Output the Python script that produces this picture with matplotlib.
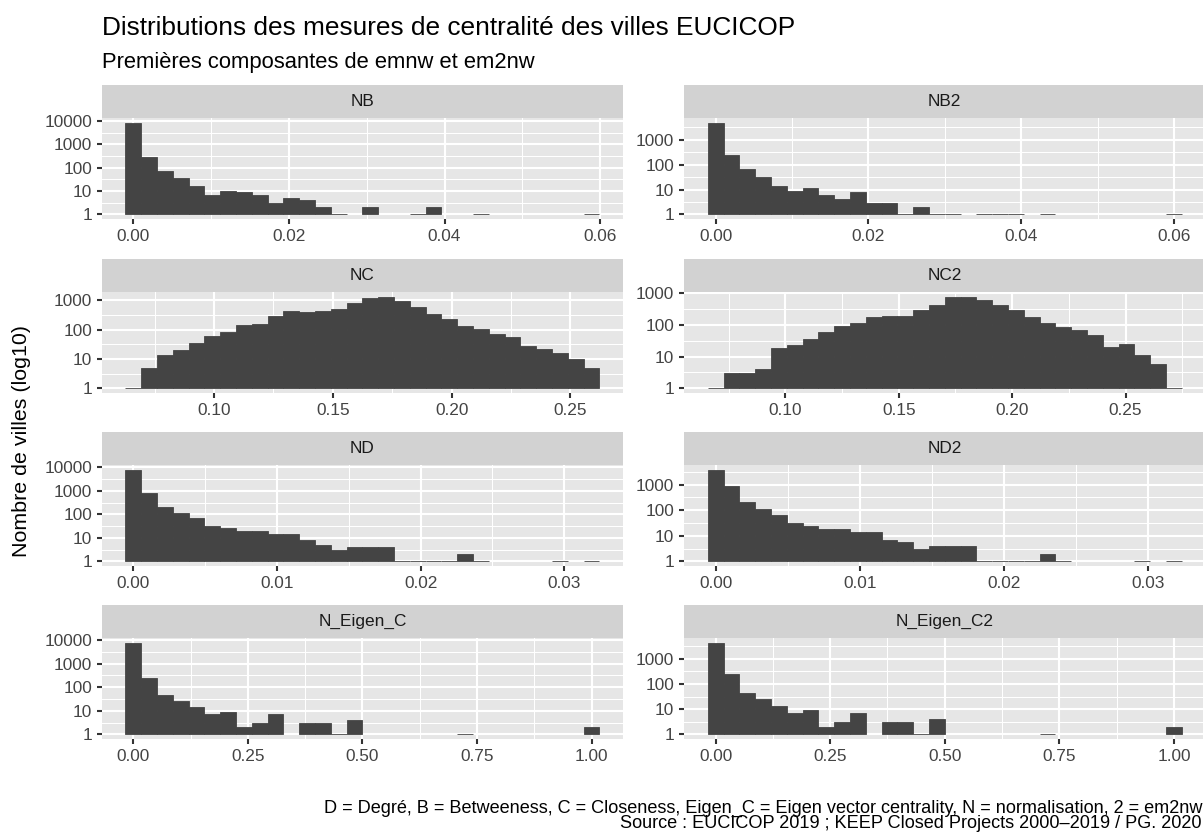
import numpy as np
import matplotlib
matplotlib.use('Agg')
import matplotlib.pyplot as plt
import matplotlib.ticker as mticker

plt.rcParams['font.family'] = ['Liberation Sans', 'DejaVu Sans']

# Histogram counts (30 bins each)
panel_names = ['NB', 'NB2', 'NC', 'NC2', 'ND', 'ND2', 'N_Eigen_C', 'N_Eigen_C2']

counts_nb = [8500, 277, 70, 35, 17, 7, 10, 9, 7, 3, 5, 4, 2, 1, 0,
             2, 0, 0, 1, 2, 0, 0, 1, 0, 0, 0, 0, 0, 0, 1]
counts_nb2 = [4900, 250, 69, 32, 14, 9, 12, 6, 4, 8, 3, 3, 1, 2, 1,
              1, 0, 1, 1, 1, 0, 1, 0, 0, 0, 0, 0, 0, 0, 1]
counts_nc = [1, 5, 14, 21, 35, 62, 85, 145, 156, 300, 450, 400, 450, 525, 820,
             1230, 1350, 960, 600, 345, 240, 137, 105, 71, 58, 28, 22, 16, 10, 5]
counts_nc2 = [1, 3, 3, 4, 18, 23, 36, 59, 93, 113, 174, 192, 190, 296, 427,
              765, 765, 615, 427, 296, 178, 115, 87, 69, 48, 20, 25, 11, 6, 1]
counts_nd = [7900, 810, 213, 114, 72, 33, 27, 20, 20, 15, 15, 8, 5, 3, 4,
             4, 4, 1, 1, 1, 1, 2, 1, 0, 0, 0, 0, 1, 0, 1]
counts_nd2 = [3900, 860, 214, 113, 66, 32, 24, 18, 18, 14, 14, 7, 6, 3, 4,
              4, 4, 1, 1, 1, 1, 2, 1, 0, 0, 0, 0, 1, 0, 1]
counts_eig = [7700, 250, 47, 26, 14, 7, 9, 2, 3, 7, 0, 3, 3, 1, 4,
              0, 0, 0, 0, 0, 0, 1, 0, 0, 0, 0, 0, 0, 0, 2]
counts_eig2 = [4370, 250, 44, 25, 14, 7, 9, 2, 3, 7, 0, 3, 3, 1, 4,
               0, 0, 0, 0, 0, 0, 1, 0, 0, 0, 0, 0, 0, 0, 2]

# centre of the first and last bin of each panel
bin_first = [0.0, 0.0, 0.0660, 0.0693, 0.0, 0.0, 0.0, 0.0]
bin_last = [0.0589, 0.0600, 0.2589, 0.2713, 0.0319, 0.0318, 1.0, 1.0]
x_steps = [0.02, 0.02, 0.05, 0.05, 0.01, 0.01, 0.25, 0.25]

all_counts = [counts_nb, counts_nb2, counts_nc, counts_nc2,
              counts_nd, counts_nd2, counts_eig, counts_eig2]

title = 'Distributions des mesures de centralité des villes EUCICOP'
subtitle = 'Premières composantes de emnw et em2nw'
ylabel = 'Nombre de villes (log10)'
caption1 = ('D = Degré, B = Betweeness, C = Closeness, Eigen_C = Eigen vector centrality, '
            'N = normalisation, 2 = em2nw')
caption2 = 'Source : EUCICOP 2019 ; KEEP Closed Projects 2000\u20132019 / PG. 2020'

# layout in pixels
W, H = 1203, 838
col_left = [101.7, 684.0]
panel_w = 521.5
row_top = [118, 292, 465, 638]
panel_h = 101
strip_h = 33

bar_col = '#444444'
panel_bg = '#E6E6E6'
strip_bg = '#D2D2D2'


def rect(x, y_top, w, h):
    return [x / W, 1 - (y_top + h) / H, w / W, h / H]


fig = plt.figure(figsize=(W / 100, H / 100), dpi=100)

for i, name in enumerate(panel_names):
    r, c = divmod(i, 2)
    counts = np.array(all_counts[i], dtype=float)
    n = len(counts)
    bw = (bin_last[i] - bin_first[i]) / (n - 1)
    edges = np.linspace(bin_first[i] - bw / 2, bin_last[i] + bw / 2, n + 1)

    ax = fig.add_axes(rect(col_left[c], row_top[r], panel_w, panel_h))
    ax.set_facecolor(panel_bg)
    ax.set_yscale('log')

    # bars start at 1 (log10 = 0); a count of 1 leaves a flat line
    keep = counts > 0
    ax.bar(edges[:-1][keep], counts[keep] - 1, bottom=1, width=bw, align='edge',
           color=bar_col, edgecolor=bar_col, linewidth=0.6)

    span = edges[-1] - edges[0]
    ax.set_xlim(edges[0] - 0.05 * span, edges[-1] + 0.05 * span)
    top = np.log10(counts.max())
    ax.set_ylim(10 ** (-0.05 * top), 10 ** (1.05 * top))

    ax.xaxis.set_major_locator(mticker.MultipleLocator(x_steps[i]))
    ax.xaxis.set_minor_locator(mticker.AutoMinorLocator(2))
    ax.xaxis.set_major_formatter(mticker.FormatStrFormatter('%.2f'))
    ax.yaxis.set_major_locator(mticker.LogLocator(base=10, numticks=10))
    ax.yaxis.set_minor_locator(mticker.LogLocator(base=10, subs=(10 ** 0.5,), numticks=10))
    ax.yaxis.set_major_formatter(mticker.FuncFormatter(lambda v, p: f'{v:.0f}'))
    ax.yaxis.set_minor_formatter(mticker.NullFormatter())

    ax.grid(which='major', color='white', linewidth=1.5)
    ax.grid(which='minor', color='white', linewidth=0.75)
    ax.set_axisbelow(True)
    for s in ax.spines.values():
        s.set_visible(False)
    ax.tick_params(which='major', length=3.9, width=1.5, color='#333333',
                   labelcolor='#444444', labelsize=12.4, pad=3.1)
    ax.tick_params(which='minor', length=0)

    sax = fig.add_axes(rect(col_left[c], row_top[r] - strip_h, panel_w, strip_h))
    sax.set_facecolor(strip_bg)
    sax.set_xticks([])
    sax.set_yticks([])
    for s in sax.spines.values():
        s.set_visible(False)
    sax.text(0.5, 0.5, name, ha='center', va='center', fontsize=12.4,
             color='#1A1A1A', transform=sax.transAxes)

fig.text(101.7 / W, 1 - 35 / H, title, fontsize=18.9, va='baseline', ha='left')
fig.text(101.7 / W, 1 - 68 / H, subtitle, fontsize=15.8, va='baseline', ha='left')
fig.text(22 / W, 1 - 441 / H, ylabel, fontsize=15.4, rotation=90,
         va='center', ha='center')
fig.text(1202 / W, 1 - 813 / H, caption1, fontsize=13.1, va='baseline', ha='right')
fig.text(1202 / W, 1 - 828 / H, caption2, fontsize=13.1, va='baseline', ha='right')

fig.savefig('out.png', dpi=100, facecolor='white')
